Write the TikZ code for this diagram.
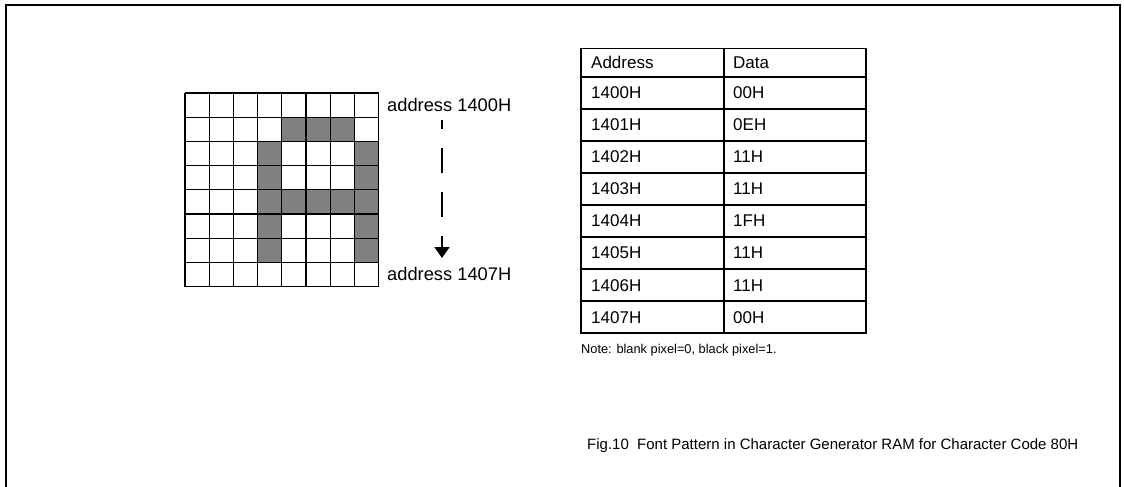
\documentclass[tikz,border=0pt]{standalone}
\usepackage{fontspec}
\setmainfont{Liberation Sans}
\usetikzlibrary{arrows.meta}
\definecolor{pixgray}{HTML}{808080}
\begin{document}
\begin{tikzpicture}[x=1pt,y=-1pt,
  frameline/.style={line width=2pt},
  gridline/.style={line width=1.25pt},
  tabline/.style={line width=1.8pt},
  pix/.style={fill=pixgray},
  lbl/.style={font=\fontsize{18.3}{21}\selectfont, inner sep=0pt, anchor=west},
  tabtxt/.style={font=\fontsize{17}{20}\selectfont, inner sep=0pt, anchor=west},
  notetxt/.style={font=\fontsize{12.8}{15}\selectfont, inner sep=0pt, anchor=west},
  captxt/.style={font=\fontsize{15}{18}\selectfont, inner sep=0pt, anchor=west},
  flow/.style={line width=2pt, dash pattern=on 25pt off 19pt, dash phase=16pt,
    -{Triangle[width=15pt,length=11pt]}}]
\fill[white] (0,0) rectangle (1124,487);
\useasboundingbox (0,0) rectangle (1124,487);
% frame (open at the bottom)
\draw[frameline] (6,487) -- (6,5) -- (1120,5) -- (1120,487);
% pixel grid
\def\cs{24.2}
\foreach \c/\r in {4/1,5/1,6/1,3/2,7/2,3/3,7/3,3/4,4/4,5/4,6/4,7/4,3/5,7/5,3/6,7/6}{
  \fill[pix] ({185+\c*\cs},{93+\r*\cs}) rectangle ({185+(\c+1)*\cs},{93+(\r+1)*\cs});
}
\foreach \k in {0,...,8}{
  \draw[gridline] ({185+\k*\cs},93) -- ({185+\k*\cs},{93+8*\cs});
  \draw[gridline] (185,{93+\k*\cs}) -- ({185+8*\cs},{93+\k*\cs});
}
% address labels and arrow
\node[lbl] (adrA) at (387,105) {address 1400H};
\node[lbl] (adrB) at (387,274) {address 1407H};
\coordinate (arS) at (442,120);
\coordinate (arE) at (442,258);
\draw[flow] (arS) -- (arE);
% table
\draw[tabline] (581,48.5) rectangle (866,333.3);
\draw[tabline] (724,48.5) -- (724,333.3);
\foreach \k in {0,...,7}{
  \draw[tabline] (581,{76.7+32.08*\k}) -- (866,{76.7+32.08*\k});
}
\node[tabtxt] (hA) at (591,62.8) {Address};
\node[tabtxt] (hD) at (733,62.8) {Data};
\foreach \a/\d [count=\i from 0] in {1400H/00H,1401H/0EH,1402H/11H,1403H/11H,1404H/1FH,1405H/11H,1406H/11H,1407H/00H}{
  \node[tabtxt] (a\i) at (591,{92.74+32.08*\i}) {\a};
  \node[tabtxt] (d\i) at (733,{92.74+32.08*\i}) {\d};
}
\node[notetxt] (note) at (581,350) {Note: blank pixel=0, black pixel=1.};
\node[captxt] (cap) at (587,446) {Fig.10\ \ Font Pattern in Character Generator RAM for Character Code 80H};
\end{tikzpicture}
\end{document}
